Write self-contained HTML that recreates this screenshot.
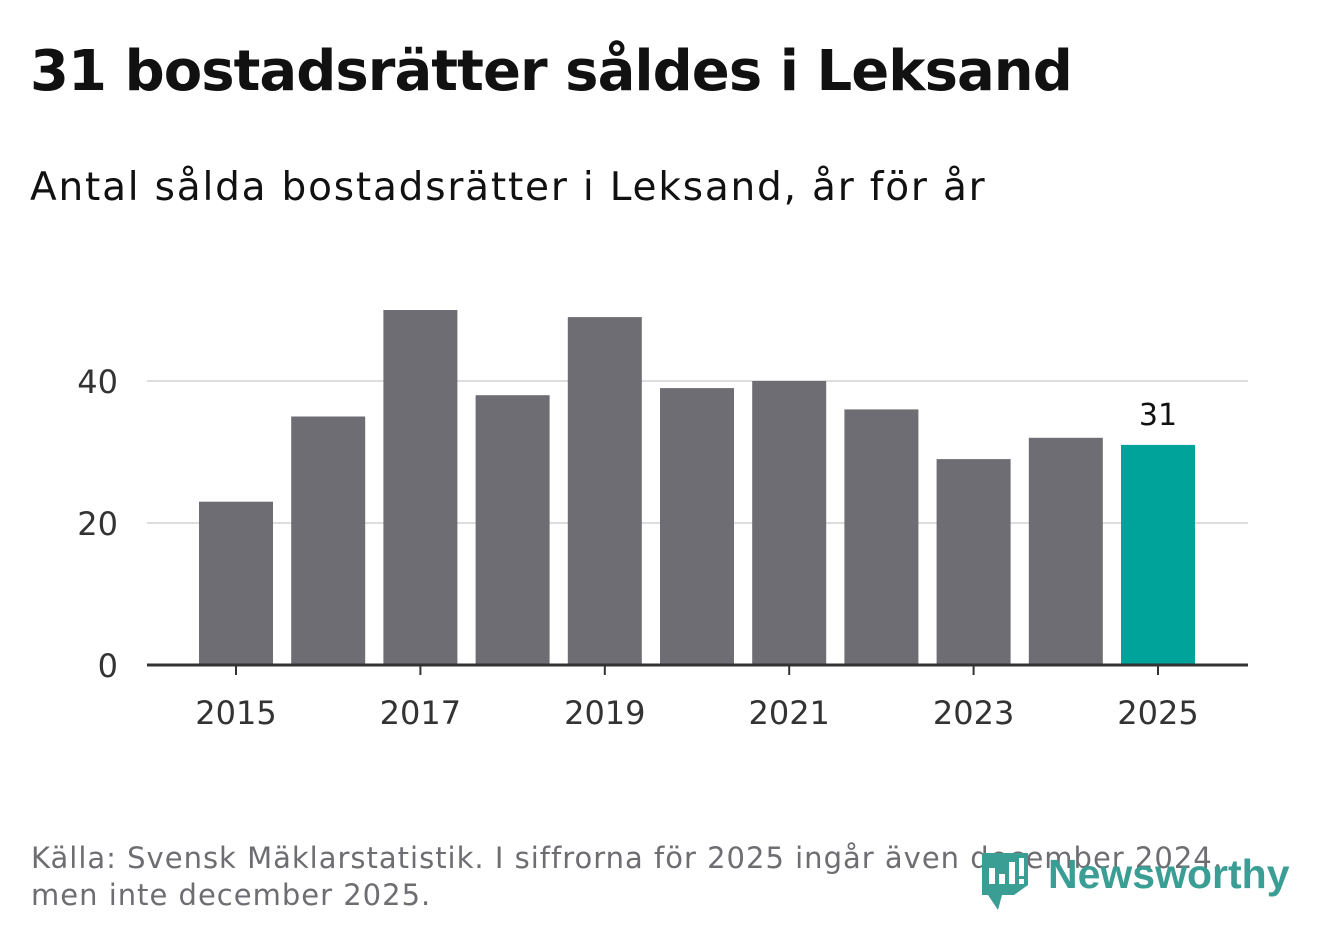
<!DOCTYPE html>
<html><head><meta charset="utf-8"><style>
body{margin:0;width:1322px;height:939px;background:#fff;font-family:"DejaVu Sans","Liberation Sans",sans-serif;overflow:hidden;position:relative}
#title{position:absolute;left:30px;top:39px;font-size:56px;font-weight:bold;color:#111;margin:0;letter-spacing:-0.95px}
#sub{position:absolute;left:30px;top:165px;font-size:39px;color:#111;letter-spacing:1.8px}
#src{position:absolute;left:31px;top:840px;font-size:29px;color:#6e6d72;line-height:37px;letter-spacing:1px}
#logo{position:absolute;left:982px;top:848px}
</style></head><body>
<h1 id="title">31 bostadsrätter såldes i Leksand</h1>
<div id="sub">Antal sålda bostadsrätter i Leksand, år för år</div>
<svg id="chart" width="1322" height="939" style="position:absolute;left:0;top:0"></svg>
<div id="src">Källa: Svensk Mäklarstatistik. I siffrorna för 2025 ingår även december 2024,<br>men inte december 2025.</div>
<svg id="logo" width="310" height="65">
<path d="M0 5 h46 v32 l-14 10 h-12 l-4 15 l-10-15 h-6 z" fill="#3a9e94"/>
<rect x="7" y="20" width="6" height="16" fill="#fff"/><rect x="17" y="26" width="6" height="10" fill="#fff"/><rect x="27" y="14" width="6" height="22" fill="#fff"/><rect x="37" y="10" width="5" height="18" fill="#fff"/><rect x="37" y="31" width="5" height="5" fill="#fff"/>
<text x="66" y="40" font-family="Liberation Sans,sans-serif" font-weight="bold" font-size="41" fill="#3a9e94">Newsworthy</text>
</svg>
<script>
const years=[2015,2016,2017,2018,2019,2020,2021,2022,2023,2024,2025];
const values=[23,35,50,38,49,39,40,36,29,32,31];
const yTicks=[0,20,40];
const xTickLabels=[2015,2017,2019,2021,2023,2025];
const NS='http://www.w3.org/2000/svg';
const svg=document.getElementById('chart');
const x0=236,step=92.2,bw=74,yBase=665,ppu=7.1;
const xs=i=>x0+i*step;
const ys=v=>yBase-v*ppu;
function mk(t,a){const e=document.createElementNS(NS,t);for(const k in a)e.setAttribute(k,a[k]);svg.appendChild(e);return e;}
yTicks.forEach(v=>{
 if(v>0){const g=mk('line',{x1:147,x2:1248,y1:ys(v),y2:ys(v),stroke:'#dddddd','stroke-width':2});
 
 }
 const t=mk('text',{x:118,y:ys(v)+12,'text-anchor':'end','font-size':32,fill:'#333'});t.textContent=v;
 
 
});
values.forEach((v,i)=>{
 const last=i===values.length-1;
 const r=mk('rect',{x:xs(i)-bw/2,y:ys(v),width:bw,height:v*ppu,fill:last?'#00a39a':'#6e6d73'});
 
 
 if(last){const t=mk('text',{x:xs(i),y:ys(v)-20,'text-anchor':'middle','font-size':30,fill:'#111'});t.textContent=v;
 
 }
});
const ax=mk('line',{x1:147,x2:1248,y1:yBase,y2:yBase,stroke:'#333','stroke-width':3});


xTickLabels.forEach(y=>{
 const i=years.indexOf(y);
 const tk=mk('line',{x1:xs(i),x2:xs(i),y1:yBase,y2:yBase+10,stroke:'#333','stroke-width':2});
 
 
 const t=mk('text',{x:xs(i),y:724,'text-anchor':'middle','font-size':32,fill:'#333'});t.textContent=y;
 
 
});
</script>
</body></html>
